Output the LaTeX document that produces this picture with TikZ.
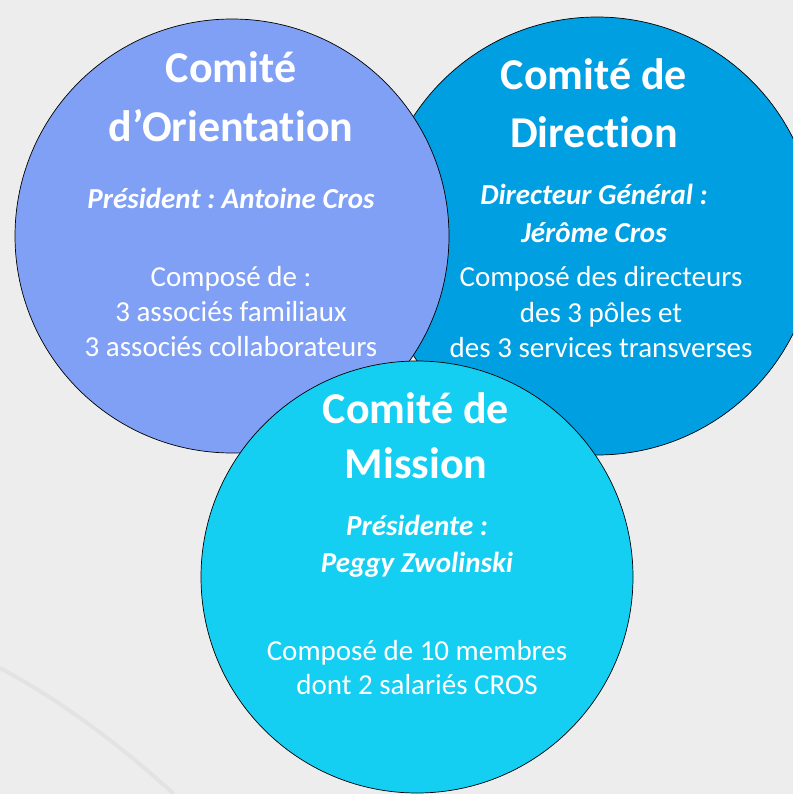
\documentclass[tikz,border=0pt]{standalone}
\usepackage{fontspec}
\setmainfont{Carlito}[Ligatures={NoCommon}]
\usepackage{xcolor}
\frenchspacing

\definecolor{fond}{HTML}{EDEDED}
\definecolor{arcgris}{HTML}{E3E3E3}
\definecolor{orientcol}{HTML}{80A0F5}
\definecolor{directcol}{HTML}{009FE2}
\definecolor{missioncol}{HTML}{14CFF2}

\tikzset{
  comite/.style={draw=black, line width=0.7pt},
  titre/.style={text=white, align=center, anchor=base, inner sep=0pt, font=\fontsize{44}{57}\selectfont\bfseries},
  role/.style={text=white, align=center, anchor=base, inner sep=0pt, font=\fontsize{29}{38}\selectfont\bfseries\itshape},
  compo/.style={text=white, align=center, anchor=base, inner sep=0pt, font=\fontsize{29}{35}\selectfont}
}

\begin{document}
\begin{tikzpicture}[x=1pt,y=-1pt]
\useasboundingbox (0,0) rectangle (793,794);
\clip (0,0) rectangle (793,794);
\fill[fond] (0,0) rectangle (793,794);
\draw[line width=4pt, arcgris] (0,668) .. controls (60,700) and (120,745) .. (174,794);

% les trois comites
\draw[comite, fill=directcol] (597,236) circle[radius=219];
\draw[comite, fill=orientcol] (232,236) circle[radius=217];
\draw[comite, fill=missioncol] (417,577) circle[radius=216];

% Comite d'Orientation
\node[titre] (orient-titre) at (231,142) {Comité\\[2pt]d’Orientation};
\node[role] (orient-pres) at (231,209) {Président : Antoine Cros};
\node[compo] (orient-compo) at (231,356) {Composé de :\\3 associés familiaux\\3 associés collaborateurs};

% Comite de Direction
\node[titre] (direct-titre) at (594,148) {Comité de\\[1pt]Direction};
\node[role] (direct-dg) at (594,243) {Directeur Général :\\[1pt]Jérôme Cros};
\node[compo] (direct-compo) at (601,357) {Composé des directeurs\\[1pt]des 3 pôles et\\des 3 services transverses};

% Comite de Mission
\node[titre] (mission-titre) at (416,478) {Comité de\\[-2pt]Mission};
\node[role] (mission-pres) at (417,572) {Présidente :\\[-1pt]Peggy Zwolinski};
\node[compo] (mission-compo) at (417,694) {Composé de 10 membres\\[-1pt]dont 2 salariés CROS};
\end{tikzpicture}
\end{document}
